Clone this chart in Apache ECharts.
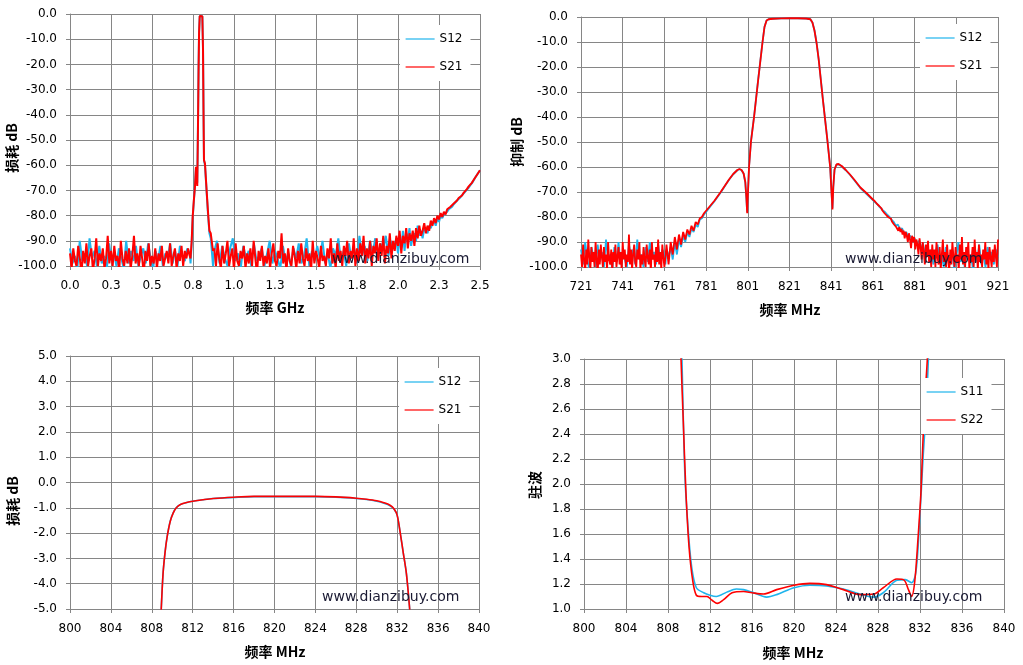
<!DOCTYPE html>
<html><head><meta charset="utf-8">
<script src="https://cdn.jsdelivr.net/npm/echarts/dist/echarts.min.js"></script>
<style>html,body{margin:0;padding:0;background:#fff}#c{width:1023px;height:665px}</style>
</head><body><div id="c"></div>
<script>
// ---------- Top-left: wide band S12/S21 (GHz, dB) ----------
const tlXLabels = ['0.0','0.3','0.5','0.8','1.0','1.3','1.5','1.8','2.0','2.3','2.5'];
const tlS21A = [-95,-101,-93,-98,-100,-92,-97,-103,-94,-99,
 -91,-100,-96,-93,-102,-97,-89,-100,-95,-98,
 -93,-101,-97,-88,-99,-94,-100,-92,-98,-96,
 -102,-90,-97,-100,-94,-99,-93,-101,-96,-88,
 -99,-95,-100,-92,-97,-103,-94,-98,-91,-100,
 -96,-99,-93,-101,-95,-98,-92,-100,-97,-94,
 -99,-91,-100,-96,-93,-101,-95,-98,-92,-100,
 -94,-97,-93,-96];
const tlS12A = [-93,-99,-96,-101,-90,-98,-95,-100,-89,-97,
 -94,-100,-92,-99,-96,-102,-91,-98,-95,-100,
 -93,-97,-101,-90,-99,-94,-98,-92,-100,-96,
 -93,-99,-91,-97,-101,-94,-98,-92,-100,-95,
 -97,-91,-99,-94,-100,-92,-96,-98,-93,-95];
const tlPeakF = [0.735,0.742,0.748,0.755,0.762,0.768,0.772,0.776,0.780,0.784,0.787,0.791,0.799,0.807,0.811,0.814,0.817,0.823,0.833,0.842,0.850,0.858,0.866,0.872];
const tlS21Peak = [-97,-90,-80.5,-74,-68.6,-60.6,-63,-68.2,-47,-22,-7.5,-0.8,-0.6,-0.9,-14,-38,-58,-59.3,-70,-79,-86,-87,-91,-94];
const tlS12Peak = [-99,-91,-81,-74.5,-68,-61,-64,-67,-46,-21,-7,-0.8,-0.6,-0.9,-13,-37,-58,-60,-70.5,-80,-87,-89,-95,-100];
const tlS21B = [-93,-100,-91,-97,-101,-92,-99,-95,-90,-100,
 -96,-93,-102,-91,-98,-100,-94,-97,-92,-101,
 -95,-99,-93,-100,-90,-97,-103,-94,-98,-92,
 -100,-96,-99,-93,-101,-95,-91,-98,-100,-94,
 -97,-87,-99,-95,-102,-93,-98,-100,-92,-96,
 -101,-94,-99,-91,-97,-100,-93,-98,-95,-102,
 -90,-99,-94,-97,-101,-92,-98,-96,-100,-93,
 -97,-89,-99,-95,-101,-91,-98,-94,-100,-92,
 -96,-90,-99,-94,-97,-89,-100,-93,-98,-91,
 -96,-88,-99,-93,-97,-90,-100,-92,-95,-89,
 -98,-91,-96,-88,-99,-92,-95,-87,-97,-90,
 -94,-88];
const tlS12B = [-94,-90,-99,-92,-97,-100,-93,-89,-98,-95,
 -101,-92,-97,-94,-100,-91,-98,-96,-93,-100,
 -95,-90,-99,-94,-97,-101,-92,-98,-95,-100,
 -93,-97,-91,-99,-96,-89,-100,-94,-98,-92,
 -97,-90,-99,-95,-101,-93,-96,-89,-98,-94,
 -100,-91,-97,-93,-99,-88,-96,-92,-98,-90,
 -95,-89,-97,-91,-94,-88,-96,-90,-93,-89];
const tlS21C = [-92,-86,-95,-88,-91,-85,-93,-87,-90,-86,
 -92,-85,-89,-84,-88,-86,-83,-87,-84,-86,
 -82,-84,-81,-83,-80,-81.5,-79,-80.5,-78.5,-79.5,
 -77.5,-78,-76.5,-76,-75.2,-74.5,-74,-73,-72.5,-72,
 -71,-70.5,-69.5,-68.5,-68,-67,-66,-65,-64,-63,-62];
const tlS12C = [-95,-89,-93,-86,-94,-87,-90,-85,-92,-88,
 -87,-90,-84,-88,-86,-89,-85,-86,-87,-84,
 -85,-83,-82,-84,-81,-82.5,-80,-81,-79.5,-80,
 -78.5,-77.5,-77,-76.5,-75.5,-75,-74,-73.5,-72.8,-72,
 -71.5,-70.5,-70,-69,-68,-67.2,-66.2,-65,-64,-63,-62];

// ---------- Top-right: rejection (MHz, dB) ----------
const trS21L = [-95,-100,-91,-97,-102,-93,-99,-89,-96,-101,
 -92,-98,-94,-100,-90,-97,-103,-93,-99,-91,
 -96,-100,-92,-98,-95,-101,-90,-97,-99,-93,
 -102,-94,-98,-91,-100,-96,-92,-99,-94,-101,
 -90,-97,-93,-100,-95,-98,-87,-99,-93,-101,
 -95,-91,-98,-100,-93,-97,-90,-101,-95,-99,
 -92,-97,-100,-91,-96,-99,-93,-102,-90,-97,
 -95,-100,-92,-98,-89,-99,-94,-101,-91,-96,
 -100];
const trS12L = [-93,-99,-90,-97,-101,-92,-96,-100,-91,-98,
 -94,-100,-89,-97,-95,-101,-92,-98,-90,-99,
 -94,-97,-100,-91,-96,-93,-99,-89,-97,-95,
 -100,-92,-98,-90,-96,-94,-99,-91,-97,-93,
 -95];
const trMidF = [761.5,762,763,764,765,766,767,768,769,770,771,772,773,774,775,776,777,778,779,780,781,783,785,788,790,792,794,796,797,798,799,799.8,800.3,800.7,801.1,801.6,802.5,804,806,808,809,810,811,813,817,821,825,829,831,832,833,834,835,837,839,840.5,841.2,841.6,842,842.6,843.5,844.5,846,848,850,852,855,858,861];
const trS21Mid = [-96,-91,-99,-90,-95,-88,-93,-87,-91,-86,-89,-85,-87,-83.5,-85.5,-82,-83,-80.5,-80,-78.5,-77.5,-75.5,-73.5,-70,-67.5,-65,-62.8,-61.2,-60.8,-61.2,-62.6,-66,-72,-78.5,-70,-60,-50,-40,-25,-10.5,-4,-1.4,-0.9,-0.7,-0.55,-0.5,-0.5,-0.6,-0.9,-2.2,-5.5,-10.5,-17,-33,-48,-60,-71,-77,-68,-61,-59,-58.8,-59.6,-61.2,-63,-65,-68.2,-70.5,-73];
const trS12Mid = [-99,-93,-96,-92,-97,-90,-95,-89,-92,-87.5,-90,-86,-88,-84.5,-86,-83,-84,-81,-80.5,-79,-78,-75.8,-73.7,-70.2,-67.6,-65.1,-62.9,-61.3,-60.9,-61.3,-62.7,-66.2,-72.5,-78,-69.5,-59.8,-49.8,-39.8,-24.8,-10.4,-4,-1.4,-0.9,-0.7,-0.55,-0.5,-0.5,-0.6,-0.9,-2.2,-5.4,-10.4,-16.9,-32.8,-47.8,-59.8,-70.5,-76.5,-68.2,-61.1,-59.1,-58.9,-59.7,-61.3,-63.1,-65.2,-68.4,-70.8,-73.2];
const trS21R = [-73.8,-74.2,-74.8,-75.1,-75.6,-76.3,-76.5,-77.4,-77.6,-78.5,-78.3,-79.4,-79.8,-80.2,-81,-80.6,-81.8,
 -81.5,-83,-82.4,-84,-83.2,-85.5,-84,-86,-84.8,-87,-85.5,-88.5,-86,-87.5,-90,-86.5,-89,-92.5,-87.5,
 -90,-88,-93,-89,-91,-95,-88.5,-92,-97,-90,-94,-99,-91,-96,-89.5,-98,-93,-100,-91,
 -97,-93,-100,-90,-96,-99,-92,-101,-95,-89,
 -98,-94,-100,-91,-97,-102,-93,-99,-90,-96,
 -100,-92,-98,-95,-101,-91,-97,-88,-99,-94,
 -100,-92,-96,-90,-101,-95,-98,-92,-100,-89,
 -97,-94,-101,-91,-98,-95,-100,-93,-97,-90,
 -99,-94,-101,-92,-96,-100,-93,-98,-91,-96,
 -100,-89];
const trS12R = [-74,-74.8,-75.8,-76.6,-77.5,-78.2,-79.2,-80,-81.2,-82,
 -83.5,-83,-85,-84.5,-86.5,-86,-88,-87.5,-90,-88.5,
 -91,-89.5,-93,-90.5,-95,-92,-97,-93,-99,-94,
 -91,-98,-95,-100,-92,-97,-99,-93,-101,-96,
 -90,-98,-94,-100,-92,-97,-95,-101,-93,-98,
 -91,-99,-95,-100,-92,-97,-94,-99,-93,-96];

// ---------- Bottom-left: passband insertion loss (MHz, dB) ----------
const blF = [808.7,808.9,809.1,809.3,809.5,809.8,810.1,810.4,810.8,811.5,812,813,814,816,818,820,822,824,826,828,829,830,830.7,831.3,831.7,832,832.3,832.6,832.9,833.2,833.4];
const blS21 = [-7,-5.2,-3.6,-2.75,-2.15,-1.54,-1.2,-1.0,-0.87,-0.78,-0.74,-0.68,-0.63,-0.58,-0.55,-0.55,-0.55,-0.55,-0.57,-0.62,-0.66,-0.72,-0.8,-0.9,-1.05,-1.3,-2.0,-2.8,-3.6,-4.9,-6];
const blS12 = [-7,-5.2,-3.6,-2.74,-2.14,-1.53,-1.19,-0.99,-0.87,-0.78,-0.74,-0.68,-0.63,-0.59,-0.56,-0.56,-0.56,-0.56,-0.58,-0.63,-0.67,-0.74,-0.82,-0.92,-1.06,-1.3,-2.0,-2.8,-3.6,-4.9,-6];

// ---------- Bottom-right: VSWR ----------
const brS11F = [809.25,809.33,809.6,809.9,810.25,810.7,811.4,812.0,812.6,813.6,814.5,815.2,816.0,817.4,818.35,820.0,821.5,823.1,824.7,826.3,827.6,828.5,829.8,830.6,831.2,831.6,831.9,832.3,832.6,832.8,832.9];
const brS11 = [3.3,3.0,2.09,1.66,1.34,1.17,1.13,1.11,1.10,1.135,1.16,1.155,1.135,1.095,1.115,1.17,1.19,1.185,1.16,1.12,1.095,1.13,1.23,1.235,1.21,1.29,1.61,2.22,2.62,3.0,3.3];
const brS22F = [809.15,809.24,809.46,809.7,810.0,810.35,810.7,811.2,811.7,812.2,812.7,813.3,814.1,815.2,816.0,817.1,818.35,820.0,821.5,823.1,824.7,826.3,827.6,828.5,829.8,830.5,830.9,831.2,831.5,831.8,832.1,832.4,832.7,832.8];
const brS22 = [3.3,3.0,2.49,1.95,1.50,1.23,1.11,1.10,1.10,1.07,1.045,1.075,1.13,1.14,1.13,1.12,1.155,1.19,1.205,1.195,1.155,1.115,1.12,1.17,1.24,1.23,1.155,1.10,1.22,1.55,1.95,2.6,3.0,3.3];

const watermark = 'www.dianzibuy.com';

// ---------- helpers ----------
function seg(f0, f1, vals) {
  const n = vals.length;
  return vals.map((v, i) => [f0 + (f1 - f0) * i / (n - 1), v]);
}
function zip(fs, vs) { return fs.map((f, i) => [f, vs[i]]); }

const GC = '#868686', BLUE = '#1fb4ec', RED = '#ff0000';
const FONT = 'DejaVu Sans';

function xAxis(g, min, max, interval, fmt) {
  return { type: 'value', gridIndex: g, min, max, interval,
    axisLine: { show: true, onZero: false, lineStyle: { color: GC, width: 1 } },
    axisTick: { show: true, length: 4, lineStyle: { color: GC } },
    splitLine: { show: true, lineStyle: { color: GC, width: 1 } },
    axisLabel: { formatter: fmt, color: '#000', fontSize: 12, fontFamily: FONT, margin: 14, showMinLabel: true, showMaxLabel: true } };
}
function yAxis(g, min, max, interval) {
  return { type: 'value', gridIndex: g, min, max, interval,
    axisLine: { show: true, onZero: false, lineStyle: { color: GC, width: 1 } },
    axisTick: { show: true, length: 4, lineStyle: { color: GC } },
    splitLine: { show: true, lineStyle: { color: GC, width: 1 } },
    axisLabel: { formatter: v => v.toFixed(1), color: '#000', fontSize: 12, fontFamily: FONT, margin: 13, showMinLabel: true, showMaxLabel: true } };
}
function line(g, name, color, data, smooth, width) {
  return { type: 'line', name, xAxisIndex: g, yAxisIndex: g, data, symbol: 'none', showSymbol: false,
    smooth: smooth || false, clip: true, animation: false,
    lineStyle: { width: width || 1.6, color }, itemStyle: { color } };
}
function legend(left, top, names) {
  return { left, top, orient: 'vertical', itemWidth: 29, itemHeight: 14, itemGap: 14,
    padding: [7, 8, 7, 5], backgroundColor: '#fff', data: names, selectedMode: false,
    itemStyle: { opacity: 0 }, lineStyle: { width: 1.2 },
    textStyle: { fontSize: 12, color: '#000', fontFamily: FONT, lineHeight: 14 } };
}
function txt(x, y, text, font, rot) {
  return { type: 'text', x, y, rotation: rot || 0, z: 100,
    style: { text, font, fill: '#000', align: 'center', verticalAlign: 'middle', textAlign: 'center', textVerticalAlign: 'middle' } };
}
function wm(x, y) {
  return { type: 'text', x, y, z: 100,
    style: { text: watermark, font: '14px "DejaVu Sans"', fill: '#1a1a33', align: 'left', verticalAlign: 'middle', textAlign: 'left', textVerticalAlign: 'middle' } };
}
const TF = 'bold 14px "Noto Sans CJK SC"';

const tlS21 = [].concat(seg(0, 0.73, tlS21A), zip(tlPeakF, tlS21Peak), seg(0.88, 1.99, tlS21B), seg(2.0, 2.5, tlS21C));
const tlS12 = [].concat(seg(0, 0.73, tlS12A), zip(tlPeakF, tlS12Peak), seg(0.88, 1.99, tlS12B), seg(2.0, 2.5, tlS12C));
const trS21 = [].concat(seg(721, 761, trS21L), zip(trMidF, trS21Mid), seg(862, 921, trS21R));
const trS12 = [].concat(seg(721, 761, trS12L), zip(trMidF, trS12Mid), seg(862, 921, trS12R));

const chart = echarts.init(document.getElementById('c'));
chart.setOption({
  animation: false,
  backgroundColor: '#fff',
  grid: [
    { left: 70, top: 14, width: 410, height: 252 },
    { left: 581, top: 17, width: 417, height: 250 },
    { left: 70, top: 356, width: 409, height: 253 },
    { left: 584, top: 359, width: 420, height: 250 }
  ],
  xAxis: [
    xAxis(0, 0, 2.5, 0.25, v => tlXLabels[Math.round(v / 0.25)]),
    xAxis(1, 721, 921, 20, v => String(Math.round(v))),
    xAxis(2, 800, 840, 4, v => String(Math.round(v))),
    xAxis(3, 800, 840, 4, v => String(Math.round(v)))
  ],
  yAxis: [
    yAxis(0, -100, 0, 10),
    yAxis(1, -100, 0, 10),
    yAxis(2, -5, 5, 1),
    yAxis(3, 1, 3, 0.2)
  ],
  legend: [
    legend(400, 25, ['S12', 'S21']),
    legend(920, 24, ['S12', 'S21']),
    legend(399, 368, ['S12', 'S21']),
    legend(921, 378, ['S11', 'S22'])
  ],
  series: [
    line(0, 'S12', BLUE, tlS12, false, 2), line(0, 'S21', RED, tlS21, false, 2),
    line(1, 'S12', BLUE, trS12, false, 1.8), line(1, 'S21', RED, trS21, false, 1.8),
    line(2, 'S12', BLUE, zip(blF, blS12), 0.3), line(2, 'S21', RED, zip(blF, blS21), 0.3),
    line(3, 'S11', BLUE, zip(brS11F, brS11), 0.3), line(3, 'S22', RED, zip(brS22F, brS22), 0.3)
  ],
  graphic: [
    wm(332, 259), wm(845, 259), wm(322, 597), wm(845, 597),
    txt(12, 148, '损耗 dB', TF, Math.PI / 2),
    txt(275, 308, '频率 GHz', TF),
    txt(517, 142, '抑制 dB', TF, Math.PI / 2),
    txt(790, 310, '频率 MHz', TF),
    txt(13, 501, '损耗 dB', TF, Math.PI / 2),
    txt(275, 652, '频率 MHz', TF),
    txt(535, 485, '驻波', TF, Math.PI / 2),
    txt(793, 653, '频率 MHz', TF)
  ]
});
</script></body></html>
